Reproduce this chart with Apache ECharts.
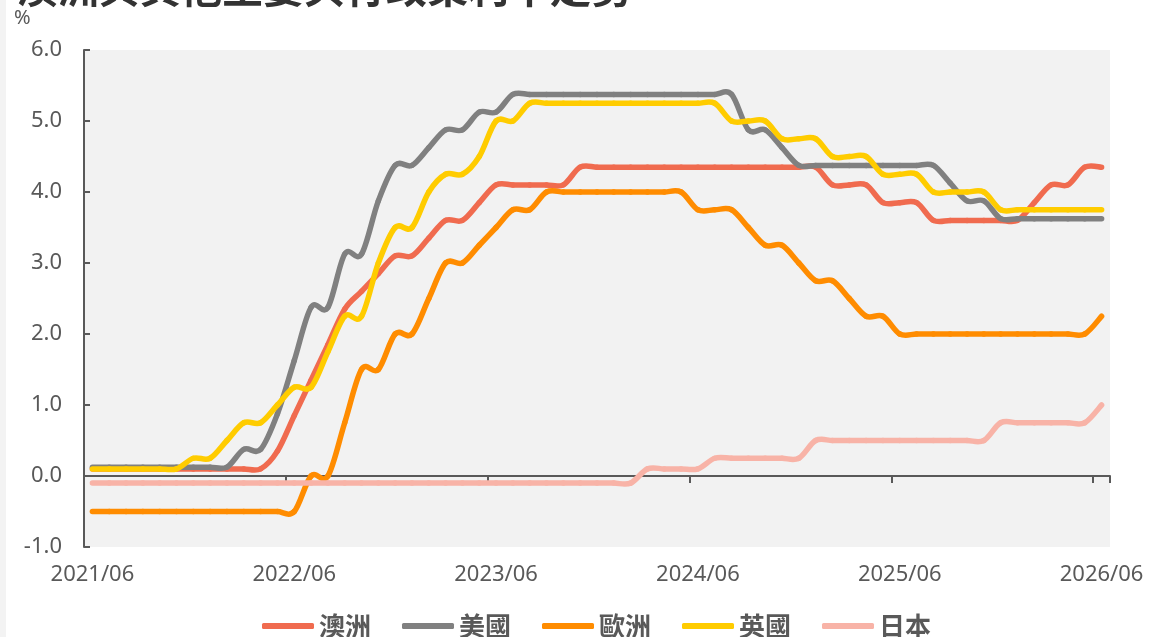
<!DOCTYPE html>
<html>
<head>
<meta charset="utf-8">
<script src="https://cdn.jsdelivr.net/npm/echarts@6/dist/echarts.min.js"></script>
<style>
html,body{margin:0;padding:0;background:#fff;}
#chart{width:1153px;height:637px;}
</style>
</head>
<body>
<div id="chart"></div>
<script>
// Monthly categories
const months = [
 "2021/06","2021/07","2021/08","2021/09","2021/10","2021/11","2021/12",
 "2022/01","2022/02","2022/03","2022/04","2022/05","2022/06","2022/07","2022/08","2022/09","2022/10","2022/11","2022/12",
 "2023/01","2023/02","2023/03","2023/04","2023/05","2023/06","2023/07","2023/08","2023/09","2023/10","2023/11","2023/12",
 "2024/01","2024/02","2024/03","2024/04","2024/05","2024/06","2024/07","2024/08","2024/09","2024/10","2024/11","2024/12",
 "2025/01","2025/02","2025/03","2025/04","2025/05","2025/06","2025/07","2025/08","2025/09","2025/10","2025/11","2025/12",
 "2026/01","2026/02","2026/03","2026/04","2026/05","2026/06"
];
const seriesNames = ["澳洲","美國","歐洲","英國","日本"];
const australia = [
 0.1,0.1,0.1,0.1,0.1,0.1,0.1,
 0.1,0.1,0.1,0.1,0.35,0.85,1.35,1.85,2.35,2.6,2.85,3.1,
 3.1,3.35,3.6,3.6,3.85,4.1,4.1,4.1,4.1,4.1,4.35,4.35,
 4.35,4.35,4.35,4.35,4.35,4.35,4.35,4.35,4.35,4.35,4.35,4.35,
 4.35,4.1,4.1,4.1,3.85,3.85,3.85,3.6,3.6,3.6,3.6,3.6,
 3.6,3.85,4.1,4.1,4.35,4.35
];
const usa = [
 0.125,0.125,0.125,0.125,0.125,0.125,0.125,
 0.125,0.125,0.375,0.375,0.875,1.625,2.375,2.375,3.125,3.125,3.875,4.375,
 4.375,4.625,4.875,4.875,5.125,5.125,5.375,5.375,5.375,5.375,5.375,5.375,
 5.375,5.375,5.375,5.375,5.375,5.375,5.375,5.375,4.875,4.875,4.625,4.375,
 4.375,4.375,4.375,4.375,4.375,4.375,4.375,4.375,4.125,3.875,3.875,3.625,
 3.625,3.625,3.625,3.625,3.625,3.625
];
const europe = [
 -0.5,-0.5,-0.5,-0.5,-0.5,-0.5,-0.5,
 -0.5,-0.5,-0.5,-0.5,-0.5,-0.5,0.0,0.0,0.75,1.5,1.5,2.0,
 2.0,2.5,3.0,3.0,3.25,3.5,3.75,3.75,4.0,4.0,4.0,4.0,
 4.0,4.0,4.0,4.0,4.0,3.75,3.75,3.75,3.5,3.25,3.25,3.0,
 2.75,2.75,2.5,2.25,2.25,2.0,2.0,2.0,2.0,2.0,2.0,2.0,
 2.0,2.0,2.0,2.0,2.0,2.25
];
const uk = [
 0.1,0.1,0.1,0.1,0.1,0.1,0.25,
 0.25,0.5,0.75,0.75,1.0,1.25,1.25,1.75,2.25,2.25,3.0,3.5,
 3.5,4.0,4.25,4.25,4.5,5.0,5.0,5.25,5.25,5.25,5.25,5.25,
 5.25,5.25,5.25,5.25,5.25,5.25,5.25,5.0,5.0,5.0,4.75,4.75,
 4.75,4.5,4.5,4.5,4.25,4.25,4.25,4.0,4.0,4.0,4.0,3.75,
 3.75,3.75,3.75,3.75,3.75,3.75
];
const japan = [
 -0.1,-0.1,-0.1,-0.1,-0.1,-0.1,-0.1,
 -0.1,-0.1,-0.1,-0.1,-0.1,-0.1,-0.1,-0.1,-0.1,-0.1,-0.1,-0.1,
 -0.1,-0.1,-0.1,-0.1,-0.1,-0.1,-0.1,-0.1,-0.1,-0.1,-0.1,-0.1,
 -0.1,-0.1,0.1,0.1,0.1,0.1,0.25,0.25,0.25,0.25,0.25,0.25,
 0.5,0.5,0.5,0.5,0.5,0.5,0.5,0.5,0.5,0.5,0.5,0.75,
 0.75,0.75,0.75,0.75,0.75,1.0
];
const seriesData = [australia, usa, europe, uk, japan];
const colors = ["#f06b4f","#808080","#ff8c00","#ffcc00","#f8b3a7"];

const titleText = "澳洲與其他主要央行政策利率走勢";
const yUnit = "%";

const chart = echarts.init(document.getElementById('chart'));
const labelColor = '#595959';
const font = 'Noto Sans';

// Smoothed (Catmull-Rom style) segment between point i and i+1, coordinates from the chart's own scales
function makeRenderer(arr, color) {
  return function (params, api) {
    const i = params.dataIndex;
    const n = arr.length;
    if (i >= n - 1) return null;
    const p0 = api.coord([Math.max(i - 1, 0), arr[Math.max(i - 1, 0)]]);
    const p1 = api.coord([i, arr[i]]);
    const p2 = api.coord([i + 1, arr[i + 1]]);
    const p3 = api.coord([Math.min(i + 2, n - 1), arr[Math.min(i + 2, n - 1)]]);
    const k = 1 / 6;
    return {
      type: 'bezierCurve',
      shape: {
        x1: p1[0], y1: p1[1], x2: p2[0], y2: p2[1],
        cpx1: p1[0] + (p2[0] - p0[0]) * k, cpy1: p1[1] + (p2[1] - p0[1]) * k,
        cpx2: p2[0] - (p3[0] - p1[0]) * k, cpy2: p2[1] - (p3[1] - p1[1]) * k
      },
      style: {stroke: color, lineWidth: 5.5, lineCap: 'round', fill: null}
    };
  };
}

chart.setOption({
  animation: false,
  backgroundColor: '#ffffff',
  title: {
    text: titleText,
    left: 12, top: -38,
    textStyle: {fontSize: 41, fontWeight: 'bold', color: '#333333', fontFamily: 'Noto Sans CJK TC'}
  },
  graphic: [
    {type: 'rect', left: 0, top: 0, shape: {width: 6, height: 637}, style: {fill: '#f3f3f3'}},
    {type: 'text', left: 14, top: 8, style: {text: yUnit, fontSize: 20, fill: labelColor, fontFamily: font}}
  ],
  legend: {
    data: seriesNames.map(n => ({name: n, icon: 'roundRect'})),
    left: 257, top: 608,
    itemWidth: 52, itemHeight: 6, itemGap: 31,
    textStyle: {fontSize: 26, fontWeight: 'bold', color: labelColor, fontFamily: 'Noto Sans CJK TC'}
  },
  grid: {left: 84, right: 43, top: 50, bottom: 90, show: true, backgroundColor: '#f2f2f2', borderWidth: 0},
  xAxis: [
    {
      type: 'category', data: months, boundaryGap: true, position: 'bottom',
      axisLine: {show: false, onZero: false},
      axisTick: {show: false},
      axisLabel: {interval: 11, fontSize: 22, color: labelColor, fontFamily: font, margin: 17},
      splitLine: {show: false}
    },
    {
      type: 'category', data: months, boundaryGap: true, position: 'top',
      axisLine: {show: true, onZero: true, lineStyle: {color: '#595959', width: 2}},
      axisTick: {show: true, interval: 11, inside: true, length: 7, lineStyle: {color: '#595959', width: 2}},
      axisLabel: {show: false},
      splitLine: {show: false}
    }
  ],
  yAxis: {
    type: 'value', min: -1, max: 6, interval: 1,
    axisLine: {show: true, onZero: false, lineStyle: {color: '#595959', width: 2}},
    axisTick: {show: true, inside: true, length: 6, lineStyle: {color: '#595959', width: 2}},
    splitLine: {show: false},
    axisLabel: {fontSize: 22, color: labelColor, fontFamily: font, margin: 22, formatter: v => v.toFixed(1)}
  },
  series: seriesNames.map((n, k) => ({
    name: n, type: 'custom', xAxisIndex: 0,
    data: seriesData[k].map((v, i) => [i, v]),
    encode: {x: 0, y: 1},
    renderItem: makeRenderer(seriesData[k], colors[k]),
    itemStyle: {color: colors[k]},
    emphasis: {disabled: true},
    clip: true
  }))
});
</script>
</body>
</html>
